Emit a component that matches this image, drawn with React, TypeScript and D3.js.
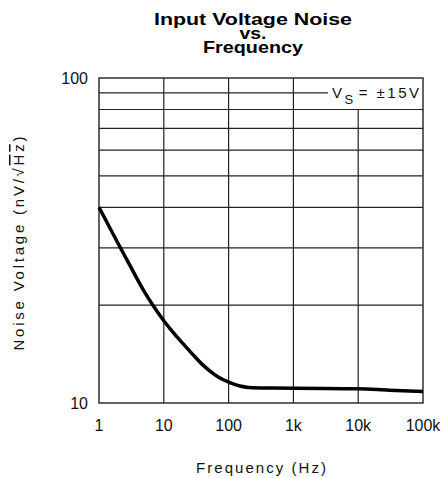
import * as d3 from "d3";
import { useEffect, useRef } from "react";

const freq = [1, 2, 3, 5, 7, 10, 15, 20, 30, 40, 50, 70, 100, 150, 200, 300, 500, 1000, 3000, 10000, 30000, 100000];
const noise = [40, 30.8, 26.5, 22, 19.8, 17.9, 16.2, 15.2, 13.9, 13.1, 12.6, 12.0, 11.6, 11.28, 11.17, 11.13, 11.12, 11.1, 11.08, 11.06, 10.95, 10.85];

const xTicks = [1, 10, 100, 1000, 10000, 100000];
const xTickLabels = ["1", "10", "100", "1k", "10k", "100k"];
const yTicks = [10, 100];
const yTickLabels = ["10", "100"];
const yGrid = [20, 30, 40, 50, 60, 70, 80, 90];

const App = () => {
  const ref = useRef<SVGSVGElement | null>(null);

  useEffect(() => {
    const svg = d3.select(ref.current);
    svg.selectAll("*").remove();

    const width = 445,
      height = 478,
      margin = { top: 78, right: 22, bottom: 75, left: 99 };
    const chartWidth = width - margin.left - margin.right;
    const chartHeight = height - margin.top - margin.bottom;

    const x = d3.scaleLog().domain([1, 100000]).range([0, chartWidth]);
    const y = d3.scaleLog().domain([10, 100]).range([chartHeight, 0]);

    const g = svg.append("g").attr("transform", `translate(${margin.left}, ${margin.top})`);
    const gridColor = "#222";

    // horizontal grid; the 90 line stops short of the supply label
    yGrid.forEach((v) => {
      g.append("line")
        .attr("x1", 0)
        .attr("x2", v === 90 ? 229 : chartWidth)
        .attr("y1", y(v))
        .attr("y2", y(v))
        .attr("stroke", gridColor)
        .attr("stroke-width", 1.2);
    });

    // vertical grid; the 10k line starts at the 80 line
    xTicks.slice(1, -1).forEach((f) => {
      g.append("line")
        .attr("x1", x(f))
        .attr("x2", x(f))
        .attr("y1", f === 10000 ? y(80) : 0)
        .attr("y2", chartHeight)
        .attr("stroke", gridColor)
        .attr("stroke-width", 1.2);
    });

    g.append("rect")
      .attr("width", chartWidth)
      .attr("height", chartHeight)
      .attr("fill", "none")
      .attr("stroke", gridColor)
      .attr("stroke-width", 1.4);

    const line = d3
      .line<number>()
      .x((_, i) => x(freq[i]))
      .y((d) => y(d))
      .curve(d3.curveMonotoneX);

    g.append("path")
      .datum(noise)
      .attr("fill", "none")
      .attr("stroke", "#000")
      .attr("stroke-width", 3.5)
      .attr("stroke-linejoin", "round")
      .attr("d", line);

    const font = "'Liberation Sans', Arial, sans-serif";

    g.selectAll(".xt")
      .data(xTicks)
      .enter()
      .append("text")
      .attr("x", (d) => x(d))
      .attr("y", chartHeight + 28)
      .attr("text-anchor", "middle")
      .attr("font-family", font)
      .attr("font-size", 16)
      .attr("fill", "#111")
      .text((_, i) => xTickLabels[i]);

    g.selectAll(".yt")
      .data(yTicks)
      .enter()
      .append("text")
      .attr("x", -11)
      .attr("y", (d) => y(d) + 6)
      .attr("text-anchor", "end")
      .attr("font-family", font)
      .attr("font-size", 16)
      .attr("fill", "#111")
      .text((_, i) => yTickLabels[i]);

    // supply label
    const lab = g
      .append("text")
      .attr("x", 233)
      .attr("y", y(90) + 5.5)
      .attr("font-family", font)
      .attr("font-size", 15)
      .attr("fill", "#111")
      .attr("textLength", 87)
      .attr("lengthAdjust", "spacing");
    lab.append("tspan").text("V");
    lab.append("tspan").attr("font-size", 13).attr("dy", 6).text("S");
    lab.append("tspan").attr("dy", -6).attr("dx", 3).text("= ±15V");

    // axis titles
    svg
      .append("text")
      .attr("x", margin.left + chartWidth / 2)
      .attr("y", 473)
      .attr("text-anchor", "middle")
      .attr("font-family", font)
      .attr("font-size", 15)
      .attr("fill", "#111")
      .attr("textLength", 130)
      .attr("lengthAdjust", "spacing")
      .text("Frequency (Hz)");

    const yl = svg
      .append("text")
      .attr("transform", `translate(24, ${margin.top + chartHeight / 2 + 3}) rotate(-90)`)
      .attr("text-anchor", "middle")
      .attr("font-family", font)
      .attr("font-size", 15)
      .attr("fill", "#111")
      .attr("textLength", 214)
      .attr("lengthAdjust", "spacing");
    yl.append("tspan").text("Noise Voltage (nV/√");
    yl.append("tspan").style("text-decoration", "overline").text("Hz");
    yl.append("tspan").text(")");

    // title
    const titleLines = [
      { t: "Input Voltage Noise", y: 25, w: 198 },
      { t: "vs.", y: 39, w: 27 },
      { t: "Frequency", y: 53, w: 100 },
    ];
    titleLines.forEach((l) => {
      svg
        .append("text")
        .attr("x", 253)
        .attr("y", l.y)
        .attr("text-anchor", "middle")
        .attr("font-family", font)
        .attr("font-weight", "bold")
        .attr("font-size", 17)
        .attr("fill", "#000")
        .attr("textLength", l.w)
        .attr("lengthAdjust", "spacingAndGlyphs")
        .text(l.t);
    });
  }, []);

  return (
    <svg
      ref={ref}
      width={445}
      height={478}
      style={{ position: "absolute", left: 0, top: 0, background: "#fff" }}
    ></svg>
  );
};

export default App;
